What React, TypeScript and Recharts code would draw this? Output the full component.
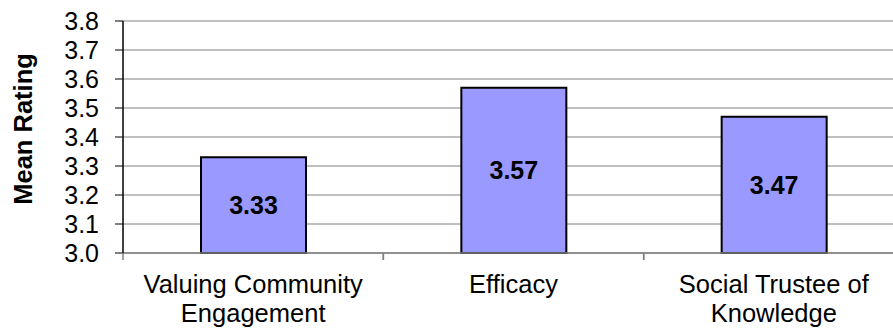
import { BarChart, Bar, XAxis, YAxis, CartesianGrid, LabelList, Label } from 'recharts';

const categories = ['Valuing Community\nEngagement', 'Efficacy', 'Social Trustee of\nKnowledge'];
const meanRatings = [3.33, 3.57, 3.47];
const yTicks = [3.0, 3.1, 3.2, 3.3, 3.4, 3.5, 3.6, 3.7, 3.8];

const data = categories.map((name, i) => ({ name, value: meanRatings[i] }));

const FONT = '"Liberation Sans", Arial, sans-serif';
const CHART_W = 905;
const CHART_H = 328;
const Y_AXIS_W = 123;
const PLOT_W = CHART_W - Y_AXIS_W - 1;

// eslint-disable-next-line @typescript-eslint/no-explicit-any
function CategoryTick(props: any) {
  const { x, y, payload } = props;
  const band = PLOT_W / categories.length;
  const lines = String(payload.value).split('\n');
  return (
    <g>
      <line x1={x - band / 2} x2={x - band / 2} y1={y} y2={y + 7} stroke="#808080" strokeWidth={1.5} />
      <line x1={x + band / 2} x2={x + band / 2} y1={y} y2={y + 7} stroke="#808080" strokeWidth={1.5} />
      <text textAnchor="middle" fontFamily={FONT} fontSize={25.5} fill="#000">
        {lines.map((l, i) => (
          <tspan key={i} x={x} y={y + 40 + i * 29}>
            {l}
          </tspan>
        ))}
      </text>
    </g>
  );
}

export default function App() {
  return (
    <div
      style={{
        position: 'absolute',
        left: 0,
        top: 0,
        width: 893,
        height: 328,
        overflow: 'hidden',
        background: '#fff',
      }}
    >
      <BarChart
        width={CHART_W}
        height={CHART_H}
        data={data}
        margin={{ top: 21, right: 1, bottom: 0, left: 0 }}
      >
        <CartesianGrid vertical={false} stroke="#808080" strokeWidth={1} />
        <XAxis
          dataKey="name"
          height={75}
          tickLine={false}
          tickSize={0}
          tickMargin={0}
          interval={0}
          axisLine={{ stroke: '#808080', strokeWidth: 1.5 }}
          tick={<CategoryTick />}
        />
        <YAxis
          width={Y_AXIS_W}
          domain={[3.0, 3.8]}
          ticks={yTicks}
          interval={0}
          tickFormatter={(v: number) => v.toFixed(1)}
          tick={{ fontSize: 25, fill: '#000', fontFamily: FONT }}
          tickSize={8}
          tickMargin={16}
          tickLine={{ stroke: '#000' }}
          axisLine={{ stroke: '#000', strokeWidth: 1.5 }}
        >
          <Label
            content={() => (
              <text
                x={32}
                y={129}
                transform="rotate(-90 32 129)"
                textAnchor="middle"
                fontFamily={FONT}
                fontSize={25.5}
                fontWeight="bold"
                fill="#000"
              >
                Mean Rating
              </text>
            )}
          />
        </YAxis>
        <Bar dataKey="value" fill="#9999FF" stroke="#000" strokeWidth={2} barSize={105} isAnimationActive={false}>
          <LabelList
            dataKey="value"
            position="center"
            formatter={(v: number) => Number(v).toFixed(2)}
            style={{ fontSize: 25, fontWeight: 'bold', fill: '#000', fontFamily: FONT }}
          />
        </Bar>
      </BarChart>
    </div>
  );
}
